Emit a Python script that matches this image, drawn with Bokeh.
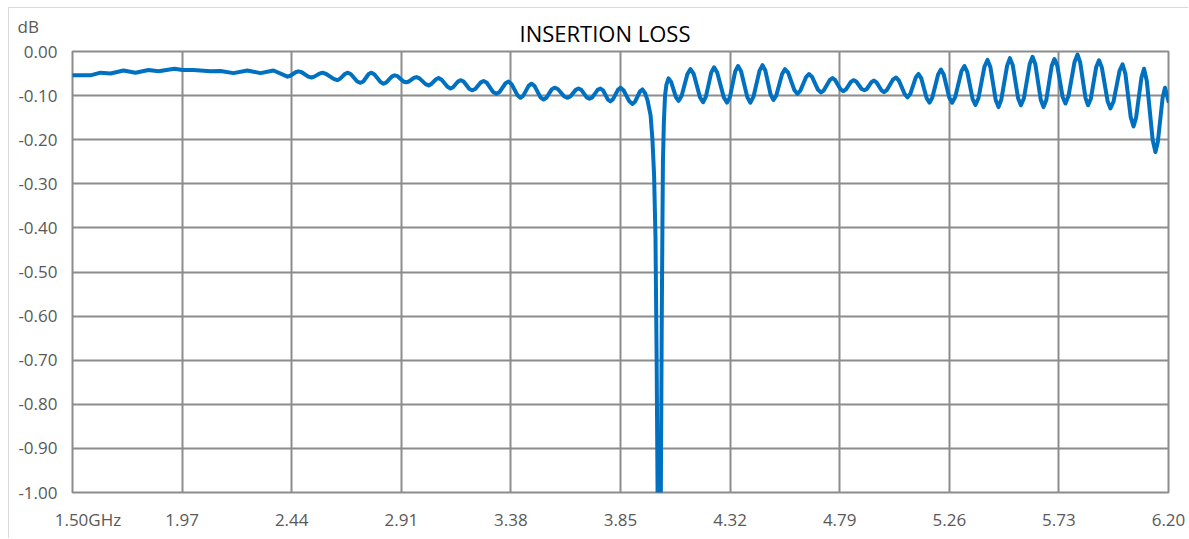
from bokeh.plotting import figure
from bokeh.models import Range1d, FixedTicker, PrintfTickFormatter, Label
from bokeh.embed import file_html
from bokeh.resources import INLINE

# ---- data ----
freq_ghz = [
    1.500, 1.577, 1.620, 1.663, 1.719, 1.770, 1.826, 1.869, 1.937, 1.972,
    2.019, 2.092, 2.135, 2.190, 2.250, 2.306, 2.362, 2.422,
    2.434, 2.457, 2.469, 2.483, 2.511, 2.525, 2.537, 2.560, 2.572, 2.588,
    2.620, 2.636, 2.647, 2.668, 2.679, 2.693, 2.721, 2.735, 2.747, 2.770,
    2.782, 2.795, 2.821, 2.834, 2.846, 2.869, 2.881, 2.894, 2.919, 2.932,
    2.943, 2.964, 2.975, 2.988, 3.014, 3.027, 3.038, 3.059, 3.070, 3.083,
    3.108, 3.121, 3.132, 3.153, 3.164, 3.177, 3.202, 3.215, 3.227, 3.251,
    3.263, 3.277, 3.304, 3.318, 3.331, 3.357, 3.370, 3.383, 3.408, 3.421,
    3.433, 3.456, 3.468, 3.481, 3.507, 3.520, 3.532, 3.555, 3.567, 3.581,
    3.609, 3.623, 3.635, 3.658, 3.670, 3.682, 3.705, 3.717, 3.729, 3.752,
    3.764, 3.775, 3.796, 3.807, 3.818, 3.839, 3.850, 3.863, 3.888, 3.901,
    3.912, 3.933, 3.944,
    3.955, 3.966, 3.979, 3.987, 3.994, 4.000, 4.005, 4.009, 4.015, 4.023,
    4.027, 4.030, 4.032, 4.036, 4.041, 4.047, 4.056,
    4.067, 4.088, 4.099, 4.112, 4.137, 4.150, 4.164, 4.191, 4.204, 4.216,
    4.239, 4.251, 4.265, 4.293, 4.307, 4.319, 4.342, 4.354, 4.367, 4.394,
    4.407, 4.420, 4.446, 4.459, 4.471, 4.494, 4.506, 4.518, 4.543, 4.555,
    4.569, 4.596, 4.609, 4.621, 4.646, 4.658, 4.671, 4.697, 4.710, 4.722,
    4.747, 4.759, 4.771, 4.794, 4.806, 4.817, 4.838, 4.849, 4.861, 4.884,
    4.896, 4.906, 4.927, 4.937, 4.948, 4.969, 4.980, 4.993, 5.018, 5.031,
    5.044, 5.069, 5.081, 5.093, 5.116, 5.128, 5.140, 5.163, 5.175, 5.187,
    5.212, 5.224, 5.236, 5.260, 5.272, 5.285, 5.312, 5.325, 5.337, 5.360,
    5.372, 5.385, 5.411, 5.424, 5.436, 5.459, 5.471, 5.483, 5.508, 5.520,
    5.532, 5.555, 5.567, 5.580, 5.605, 5.617, 5.629, 5.652, 5.664, 5.676,
    5.699, 5.711, 5.723, 5.746, 5.758, 5.771, 5.797, 5.810, 5.821, 5.844,
    5.855, 5.867, 5.890, 5.902, 5.914, 5.939, 5.951, 5.964, 5.990, 6.003,
    6.015, 6.038, 6.050, 6.061, 6.084, 6.095, 6.107, 6.132, 6.144, 6.154,
    6.175, 6.185, 6.200,
]
insertion_loss_db = [
    -0.054, -0.054, -0.048, -0.050, -0.043, -0.048, -0.042, -0.045, -0.039, -0.042,
    -0.042, -0.045, -0.044, -0.049, -0.043, -0.049, -0.043, -0.057,
    -0.055, -0.047, -0.045, -0.047, -0.057, -0.059, -0.057, -0.050, -0.048, -0.051,
    -0.062, -0.065, -0.062, -0.051, -0.048, -0.051, -0.068, -0.071, -0.068, -0.051,
    -0.048, -0.052, -0.069, -0.073, -0.070, -0.057, -0.054, -0.056, -0.068, -0.070,
    -0.068, -0.060, -0.058, -0.061, -0.074, -0.077, -0.074, -0.063, -0.060, -0.064,
    -0.080, -0.084, -0.081, -0.068, -0.065, -0.068, -0.085, -0.088, -0.085, -0.070,
    -0.067, -0.071, -0.092, -0.096, -0.092, -0.072, -0.068, -0.074, -0.099, -0.105,
    -0.100, -0.078, -0.073, -0.078, -0.104, -0.109, -0.105, -0.086, -0.082, -0.085,
    -0.102, -0.105, -0.102, -0.087, -0.084, -0.087, -0.104, -0.107, -0.104, -0.087,
    -0.084, -0.088, -0.109, -0.113, -0.108, -0.087, -0.082, -0.088, -0.113, -0.119,
    -0.114, -0.091, -0.086,
    -0.094, -0.111, -0.145, -0.200, -0.280, -0.420, -0.700, -1.000, -1.600, -1.000,
    -0.600, -0.380, -0.250, -0.160, -0.100, -0.075, -0.061,
    -0.069, -0.104, -0.112, -0.101, -0.051, -0.040, -0.051, -0.104, -0.115, -0.103,
    -0.048, -0.036, -0.048, -0.104, -0.116, -0.104, -0.045, -0.033, -0.045, -0.104,
    -0.116, -0.103, -0.044, -0.031, -0.043, -0.098, -0.110, -0.100, -0.051, -0.040,
    -0.048, -0.088, -0.096, -0.089, -0.058, -0.051, -0.057, -0.087, -0.093, -0.088,
    -0.065, -0.060, -0.065, -0.086, -0.090, -0.086, -0.069, -0.065, -0.068, -0.085,
    -0.088, -0.085, -0.069, -0.066, -0.070, -0.088, -0.092, -0.087, -0.064, -0.059,
    -0.066, -0.097, -0.104, -0.096, -0.059, -0.051, -0.061, -0.106, -0.116, -0.105,
    -0.052, -0.041, -0.052, -0.105, -0.116, -0.104, -0.045, -0.033, -0.046, -0.108,
    -0.121, -0.106, -0.034, -0.019, -0.035, -0.110, -0.126, -0.109, -0.032, -0.015,
    -0.031, -0.106, -0.122, -0.106, -0.028, -0.012, -0.029, -0.109, -0.126, -0.110,
    -0.033, -0.017, -0.032, -0.103, -0.118, -0.101, -0.024, -0.007, -0.024, -0.105,
    -0.122, -0.107, -0.035, -0.020, -0.036, -0.113, -0.129, -0.114, -0.044, -0.029,
    -0.050, -0.149, -0.170, -0.150, -0.059, -0.039, -0.067, -0.200, -0.228, -0.206,
    -0.104, -0.082, -0.113,
]
x_ticks = [1.50, 1.97, 2.44, 2.91, 3.38, 3.85, 4.32, 4.79, 5.26, 5.73, 6.20]
y_ticks = [0.0, -0.1, -0.2, -0.3, -0.4, -0.5, -0.6, -0.7, -0.8, -0.9, -1.0]
first_x_label = "1.50GHz"
title_text = "INSERTION LOSS"
y_unit = "dB"

FONT = "Open Sans"
TXT = "#595959"
GRID = "#8C8C8C"

p = figure(width=1180, height=531, output_backend="svg", toolbar_location=None,
           x_range=Range1d(1.5, 6.2), y_range=Range1d(-1.0, 0.0),
           min_border_left=63, min_border_right=21, min_border_top=43,
           min_border_bottom=47)
p.styles = {"margin-left": "8px", "margin-top": "7px",
            "border-left": "1px solid #D9D9D9", "border-top": "1px solid #D9D9D9"}
p.background_fill_color = "white"
p.border_fill_color = "white"
p.outline_line_color = GRID
p.outline_line_width = 2

p.title.text = title_text
p.title.align = "left"
p.title.offset = 447
p.title.standoff = 8
p.title.text_font = FONT
p.title.text_font_size = "22px"
p.title.text_font_style = "normal"
p.title.text_color = "#000000"

for ax in (p.xaxis[0], p.yaxis[0]):
    ax.axis_line_color = None
    ax.major_tick_line_color = None
    ax.minor_tick_line_color = None
    ax.major_tick_out = 0
    ax.major_tick_in = 0
    ax.major_label_text_font = FONT
    ax.major_label_text_font_size = "17px"
    ax.major_label_text_color = TXT
    ax.formatter = PrintfTickFormatter(format="%.2f")

p.xaxis[0].ticker = FixedTicker(ticks=x_ticks)
p.xaxis[0].major_label_standoff = 15
# the first label keeps "1.50" centred on its gridline, with the unit trailing
p.xaxis[0].major_label_overrides = {x_ticks[0]: "\u00a0" * 7 + first_x_label}
p.yaxis[0].ticker = FixedTicker(ticks=y_ticks)
p.yaxis[0].major_label_standoff = 15

p.xgrid.grid_line_color = GRID
p.xgrid.grid_line_width = 2
p.ygrid.grid_line_color = GRID
p.ygrid.grid_line_width = 2

p.line(freq_ghz, insertion_loss_db, line_color="#0070C0", line_width=4,
       line_join="round", line_cap="round")

# unit label above the y axis (placed in a side panel so it is not clipped to the frame)
p.add_layout(Label(x=1.5, y=0.0, x_offset=-55, y_offset=25, text=y_unit,
                   text_align="left", text_baseline="alphabetic",
                   text_font=FONT, text_font_size="17px", text_color=TXT), "right")

open("out.html", "w").write(file_html(p, INLINE))
